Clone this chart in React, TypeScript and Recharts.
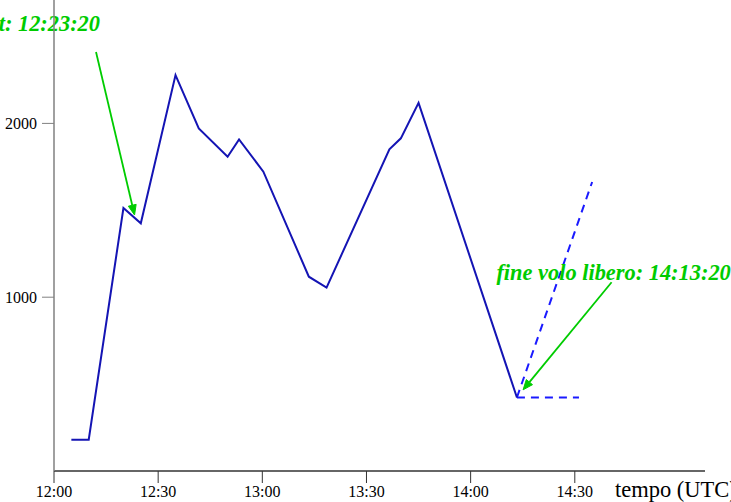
import React from 'react';
import { LineChart, Line, XAxis, YAxis, ReferenceLine, Label } from 'recharts';

// minutes after 12:00 UTC
const flightTimes = [5, 10, 20, 25, 35, 41.7, 50, 53.3, 60.3, 73.4, 78.5, 96.6, 99.9, 105, 133.33];
const flightAltitudes = [180, 180, 1513, 1425, 2278, 1971, 1808, 1908, 1722, 1118, 1055, 1851, 1914, 2118, 423];

const glideTimes = [133.33, 155];
const glideAltitudes = [423, 1663];

const levelTimes = [133.33, 151.2];
const levelAltitudes = [423, 423];

const xTicks = [0, 30, 60, 90, 120, 150];
const xTickLabels = ['12:00', '12:30', '13:00', '13:30', '14:00', '14:30'];
const yTicks = [1000, 2000];

const annotationTexts = ['start: 12:23:20', 'fine volo libero: 14:13:20'];
const arrowFromTime = [12.1, 160.6];
const arrowFromAlt = [2411, 1086];
const arrowToTime = [23.2, 135.1];
const arrowToAlt = [1473, 467];

const toSeries = (ts: number[], vs: number[]) => ts.map((t, i) => ({ t, v: vs[i] }));
const flightData = toSeries(flightTimes, flightAltitudes);
const glideData = toSeries(glideTimes, glideAltitudes);
const levelData = toSeries(levelTimes, levelAltitudes);

const GREEN = '#00cc00';
const FONT = '"Liberation Serif", "Times New Roman", serif';

const Arrow = (props: any) => {
  const { x1, y1, x2, y2, text, idx } = props;
  if ([x1, y1, x2, y2].some((v) => typeof v !== 'number' || isNaN(v))) return null;
  const dx = x2 - x1;
  const dy = y2 - y1;
  const len = Math.sqrt(dx * dx + dy * dy);
  const ux = dx / len;
  const uy = dy / len;
  const hl = 10;
  const hw = 4;
  const bx = x2 - ux * hl;
  const by = y2 - uy * hl;
  const px = -uy;
  const py = ux;
  const pts = `${x2},${y2} ${bx + px * hw},${by + py * hw} ${bx - px * hw},${by - py * hw}`;
  const textProps =
    idx === 0
      ? { x: x1 + 4, y: y1 - 21, textAnchor: 'end' as const }
      : { x: x1 + 2, y: y1 - 2, textAnchor: 'middle' as const };
  return (
    <g>
      <line x1={x1} y1={y1} x2={bx} y2={by} stroke={GREEN} strokeWidth={1.8} />
      <polygon points={pts} fill={GREEN} stroke={GREEN} strokeWidth={1} />
      <text
        {...textProps}
        fill={GREEN}
        fontFamily={FONT}
        fontSize={22.4}
        fontWeight="bold"
        fontStyle="italic"
      >
        {text}
      </text>
    </g>
  );
};

export default function App() {
  return (
    <div style={{ position: 'absolute', left: 0, top: 0, width: 731, height: 502, background: '#fff' }}>
      <LineChart width={731} height={502} margin={{ top: 0, right: 26, bottom: 0, left: 0 }}>
        <XAxis
          type="number"
          dataKey="t"
          domain={[0, 187.5]}
          ticks={xTicks}
          tickFormatter={(v: number) => xTickLabels[xTicks.indexOf(v)]}
          height={31}
          tickSize={12}
          tickMargin={3}
          allowDataOverflow
          axisLine={{ stroke: '#333', strokeWidth: 1.5 }}
          tickLine={{ stroke: '#333', strokeWidth: 1 }}
          tick={{ fill: '#000', fontSize: 16, fontFamily: FONT }}
        >
          <Label
            content={(p: any) => {
              const vb = p.viewBox || { x: 54, y: 471, width: 651, height: 31 };
              return (
                <text x={vb.x + vb.width - 90} y={vb.y + 26} fontFamily={FONT} fontSize={22.5} fill="#000">
                  tempo (UTC)
                </text>
              );
            }}
          />
        </XAxis>
        <YAxis
          type="number"
          dataKey="v"
          domain={[0, 2710]}
          ticks={yTicks}
          width={54}
          tickSize={12}
          tickMargin={5}
          allowDataOverflow
          axisLine={{ stroke: '#808080', strokeWidth: 1.5 }}
          tickLine={{ stroke: '#808080', strokeWidth: 1 }}
          tick={{ fill: '#000', fontSize: 16, fontFamily: FONT }}
        />
        <Line
          data={glideData}
          dataKey="v"
          type="linear"
          stroke="#1a1aff"
          strokeWidth={2}
          strokeDasharray="8 6"
          dot={false}
          isAnimationActive={false}
        />
        <Line
          data={levelData}
          dataKey="v"
          type="linear"
          stroke="#1a1aff"
          strokeWidth={2}
          strokeDasharray="8 6"
          dot={false}
          isAnimationActive={false}
        />
        <Line
          data={flightData}
          dataKey="v"
          type="linear"
          stroke="#1414b4"
          strokeWidth={2}
          dot={false}
          isAnimationActive={false}
        />
        {annotationTexts.map((txt, i) => (
          <ReferenceLine
            key={i}
            segment={[
              { x: arrowFromTime[i], y: arrowFromAlt[i] },
              { x: arrowToTime[i], y: arrowToAlt[i] },
            ]}
            ifOverflow="visible"
            shape={(p: any) => <Arrow {...p} text={txt} idx={i} />}
          />
        ))}
      </LineChart>
    </div>
  );
}
